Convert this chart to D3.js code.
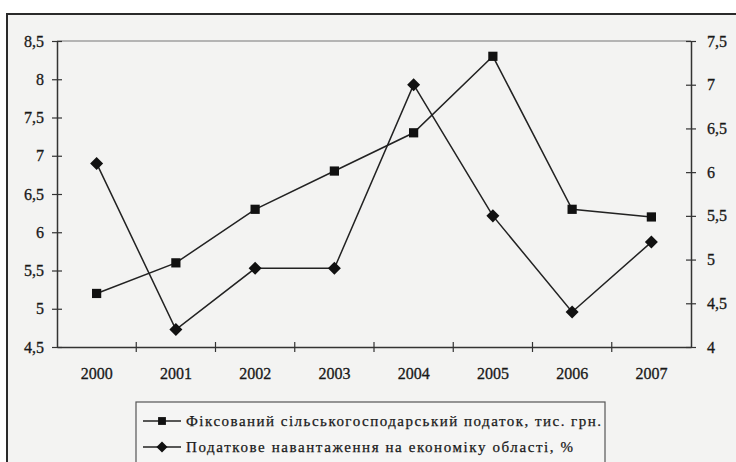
<!DOCTYPE html>
<html><head><meta charset="utf-8">
<script src="https://cdn.jsdelivr.net/npm/d3@7"></script>
<style>
html,body{margin:0;padding:0;background:#fff;}
svg{display:block;}
svg text{font-family:"Liberation Serif","DejaVu Serif",serif !important;fill:#1a1a1a;}
</style></head>
<body>
<svg id="c" width="736" height="462"></svg>
<script>
const years = ["2000","2001","2002","2003","2004","2005","2006","2007"];
const fixedTax = [5.2, 5.6, 6.3, 6.8, 7.3, 8.3, 6.3, 6.2];
const taxBurden = [6.1, 4.2, 4.9, 4.9, 7.0, 5.5, 4.4, 5.2];
const leftTicks = [4.5, 5, 5.5, 6, 6.5, 7, 7.5, 8, 8.5];
const rightTicks = [4, 4.5, 5, 5.5, 6, 6.5, 7, 7.5];
const seriesNames = ["Фіксований сільськогосподарський податок, тис. грн.",
                     "Податкове навантаження на економіку області, %"];

const svg = d3.select("#c");
const L = 57, R = 691, T = 41, B = 347;
const fmt = d => String(d).replace(".", ",");
const FONT = '"Liberation Serif", "DejaVu Serif", serif';

svg.append("rect").attr("x", 7).attr("y", 14).attr("width", 760).attr("height", 480)
  .attr("fill", "#f3f3f2").attr("stroke", "#2a2a2a").attr("stroke-width", 2);

const x = d3.scaleBand().domain(years).range([L, R]);
const yL = d3.scaleLinear().domain([4.5, 8.5]).range([B, T]);
const yR = d3.scaleLinear().domain([4, 7.5]).range([B, T]);

svg.append("line").attr("x1", L).attr("x2", R).attr("y1", T).attr("y2", T)
  .attr("stroke", "#777").attr("stroke-width", 1.2);

function styleAxis(g) {
  g.attr("font-family", FONT);
  g.selectAll(".domain").attr("stroke", "#333").attr("stroke-width", 1.5);
  g.selectAll(".tick line").attr("stroke", "#333").attr("stroke-width", 1.2);
  g.selectAll("text").attr("font-size", 16).attr("fill", "#151515")
    .attr("font-family", FONT).attr("stroke", "#151515").attr("stroke-width", 0.3);
}

const gl = svg.append("g").attr("transform", `translate(${L},0)`)
  .call(d3.axisLeft(yL).tickValues(leftTicks).tickFormat(fmt).tickSize(5).tickSizeOuter(0).tickPadding(8));
styleAxis(gl);
gl.selectAll(".tick line").attr("x1", 5).attr("x2", -5);

const gr = svg.append("g").attr("transform", `translate(${R},0)`)
  .call(d3.axisRight(yR).tickValues(rightTicks).tickFormat(fmt).tickSize(5).tickSizeOuter(0).tickPadding(11));
styleAxis(gr);
gr.selectAll(".tick line").attr("x1", -5).attr("x2", 5);

const gb = svg.append("g").attr("transform", `translate(0,${B})`)
  .call(d3.axisBottom(x).tickSize(0).tickSizeOuter(0).tickPadding(21));
styleAxis(gb);
gb.selectAll(".tick line").remove();
gb.selectAll("line.sep").data(years.slice(1)).enter().append("line")
  .attr("x1", d => x(d)).attr("x2", d => x(d)).attr("y1", -5).attr("y2", 5)
  .attr("stroke", "#333").attr("stroke-width", 1.2);

const cx = (d, i) => x(years[i]) + x.bandwidth() / 2;
const lineL = d3.line().x(cx).y(d => yL(d));
const lineR = d3.line().x(cx).y(d => yR(d));

svg.append("path").datum(fixedTax).attr("d", lineL)
  .attr("fill", "none").attr("stroke", "#222").attr("stroke-width", 1.5);
svg.append("path").datum(taxBurden).attr("d", lineR)
  .attr("fill", "none").attr("stroke", "#222").attr("stroke-width", 1.5);

const sq = d3.symbol().type(d3.symbolSquare).size(85)();
const dm = d3.symbol().type(d3.symbolSquare).size(85)();

svg.selectAll("path.sq").data(fixedTax).enter().append("path")
  .attr("class", "sq").attr("d", sq)
  .attr("transform", (d, i) => `translate(${cx(d, i)},${yL(d)})`).attr("fill", "#111");
svg.selectAll("path.dm").data(taxBurden).enter().append("path")
  .attr("class", "dm").attr("d", dm)
  .attr("transform", (d, i) => `translate(${cx(d, i)},${yR(d)}) rotate(45)`).attr("fill", "#111");

const lg = svg.append("g");
lg.append("rect").attr("x", 136).attr("y", 402).attr("width", 469).attr("height", 80)
  .attr("fill", "#f5f5f4").attr("stroke", "#555").attr("stroke-width", 1.2);
const rows = [{y: 421, sym: sq, rot: 0, len: 415}, {y: 447, sym: dm, rot: 45, len: 387}];
rows.forEach((r, i) => {
  lg.append("line").attr("x1", 143).attr("x2", 181).attr("y1", r.y).attr("y2", r.y)
    .attr("stroke", "#222").attr("stroke-width", 1.5);
  lg.append("path").attr("d", r.sym).attr("transform", `translate(162,${r.y}) rotate(${r.rot}) scale(0.85)`).attr("fill", "#111");
  lg.append("text").attr("x", 186).attr("y", r.y + 5).attr("font-size", 15)
    .attr("font-family", FONT).attr("stroke", "#151515").attr("stroke-width", 0.25)
    .attr("textLength", r.len).attr("lengthAdjust", "spacing")
    .text(seriesNames[i]);
});
</script>
</body></html>
